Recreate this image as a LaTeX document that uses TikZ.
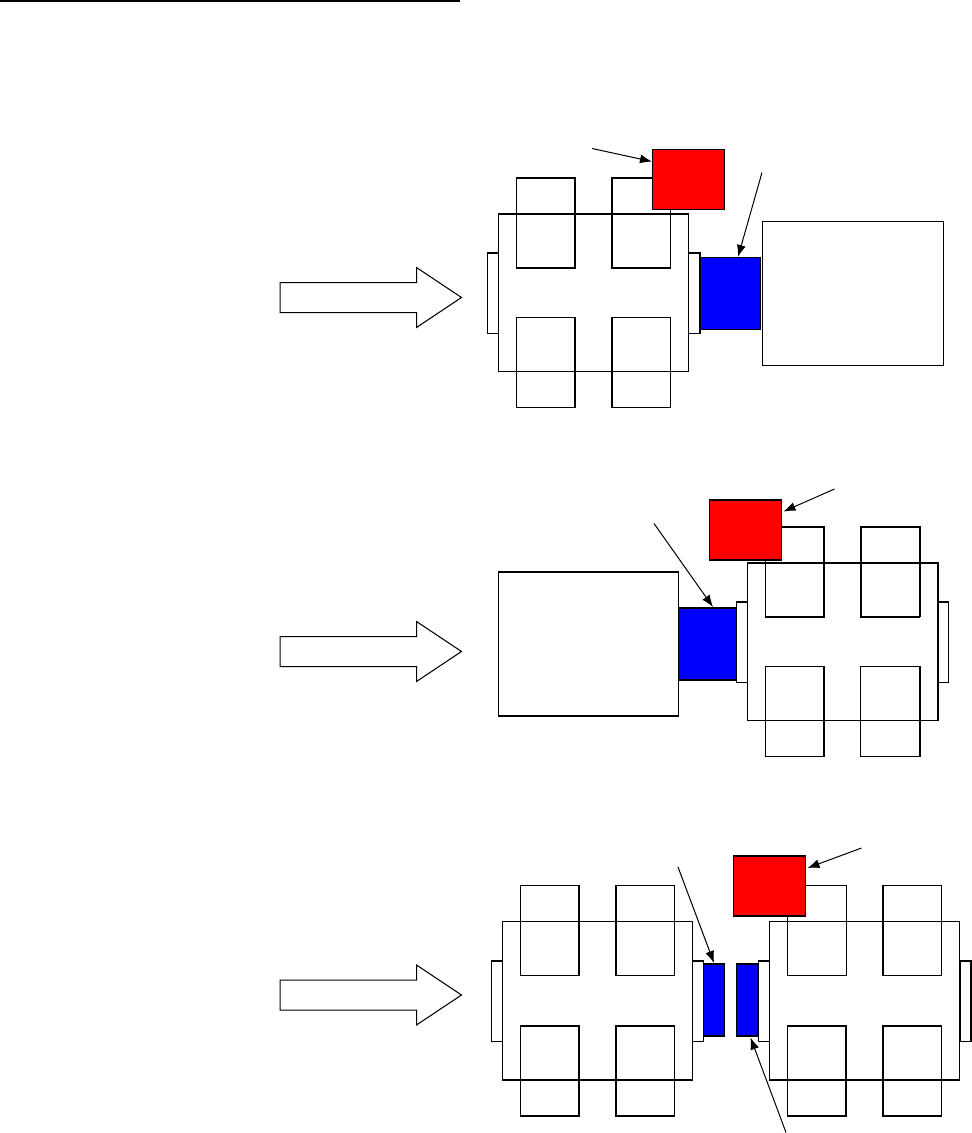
\documentclass[tikz,border=0pt]{standalone}
\usetikzlibrary{arrows.meta}
\tikzset{
  plain/.style={draw=black,line width=1pt,fill=none,inner sep=0pt,outer sep=0pt,anchor=north west},
  redbox/.style={plain,fill=red},
  bluebox/.style={plain,fill=blue},
  thk/.style={line width=2pt,shorten <=-0.6pt,shorten >=-0.6pt},
  pointer/.style={line width=1pt,-{Latex[length=12pt,width=9pt]}},
  blockarrow/.style={draw=black,line width=1pt,fill=white,line join=miter}
}
% \bx name, x0, y0, x1, y1, style
\newcommand{\bx}[6]{\node[#6,minimum width={((#4)-(#2))*1pt},minimum height={((#5)-(#3))*1pt}] (#1) at ({#2},{#3}) {};}
% one car: name, dx, dy
\newcommand{\carshape}[3]{%
  \bx{#1body}{498.5+#2}{213.5+#3}{688.5+#2}{371.5+#3}{plain}%
  \bx{#1tl}{516.5+#2}{177.5+#3}{575+#2}{267.5+#3}{plain}%
  \bx{#1tr}{611.5+#2}{177.5+#3}{670.5+#2}{267.5+#3}{plain}%
  \bx{#1bl}{516.5+#2}{317.5+#3}{575+#2}{407.5+#3}{plain}%
  \bx{#1br}{611.5+#2}{317.5+#3}{670.5+#2}{407.5+#3}{plain}%
  \bx{#1lb}{487.5+#2}{252.5+#3}{498.5+#2}{333.5+#3}{plain}%
  \bx{#1rb}{688.5+#2}{252.5+#3}{699.5+#2}{333.5+#3}{plain}%
}
% thick edges
\newcommand{\Top}[1]{\draw[thk] (#1.north west) -- (#1.north east);}
\newcommand{\Bot}[1]{\draw[thk] (#1.south west) -- (#1.south east);}
\newcommand{\Lft}[1]{\draw[thk] (#1.north west) -- (#1.south west);}
\newcommand{\Rgt}[1]{\draw[thk] (#1.north east) -- (#1.south east);}
\newcommand{\blockarr}[1]{%
  \draw[blockarrow] (280,#1-15) -- (416.5,#1-15) -- (416.5,#1-30) -- (461.5,#1) -- (416.5,#1+30) -- (416.5,#1+15) -- (280,#1+15) -- cycle;}
\begin{document}
\begin{tikzpicture}[x=1pt,y=-1pt]
\useasboundingbox (0,0) rectangle (972,1133);
\fill[white] (0,0) rectangle (972,1133);
% header rule
\coordinate (ruleA) at (0,1.2);
\coordinate (ruleB) at (460,1.2);
\draw[line width=2.4pt] (ruleA) -- (ruleB);
% block arrows
\blockarr{297.5}
\blockarr{651.5}
\blockarr{995}
% scene 1
\carshape{a}{0}{0}
\Top{abody}\Top{atl}\Rgt{atl}\Bot{atl}\Top{atr}\Lft{atr}\Bot{atr}\Rgt{abl}\Lft{abr}\Top{alb}\Top{arb}\Rgt{arb}
\bx{ared}{652.5}{149.5}{724.5}{209.5}{redbox}
\bx{ablue}{700.5}{257.5}{760.5}{329.5}{bluebox}
\bx{abox}{762.5}{221.5}{943}{365.5}{plain}
\coordinate (a1) at (592,148.5);
\coordinate (a2) at (762,172.5);
\coordinate (a1e) at (652,161.5);
\coordinate (a2e) at (738,257);
\draw[pointer] (a1) -- (a1e);
\draw[pointer] (a2) -- (a2e);
% scene 2
\carshape{b}{249}{349}
\Top{bbody}\Rgt{bbody}\Top{btl}\Rgt{btl}\Bot{btl}\Top{btr}\Lft{btr}\Rgt{btr}\Bot{btr}\Rgt{bbl}\Rgt{bbr}\Top{blb}\Top{brb}
\bx{bbox}{498.5}{572}{678.5}{716}{plain}
\Top{bbox}\Bot{bbox}
\bx{bred}{709.5}{500}{781.5}{560}{redbox}
\Top{bred}\Bot{bred}
\bx{bblue}{678.5}{608}{736.5}{680}{bluebox}
\Top{bblue}\Bot{bblue}
\coordinate (b1) at (834.5,489);
\coordinate (b1e) at (783.5,511.5);
\coordinate (b2) at (654,523.5);
\coordinate (b2e) at (713,607);
\draw[pointer] (b1) -- (b1e);
\draw[pointer] (b2) -- (b2e);
% scene 3
\carshape{c}{4}{708}
\Bot{cbody}\Rgt{ctl}\Lft{ctr}\Top{cbl}\Rgt{cbl}\Bot{cbl}\Top{cbr}\Lft{cbr}\Bot{cbr}\Top{clb}\Top{crb}
\carshape{d}{271}{708}
\Bot{dbody}\Lft{dtr}\Top{dbl}\Bot{dbl}\Rgt{dbl}\Top{dbr}\Lft{dbr}\Bot{dbr}\Top{dlb}\Top{drb}\Lft{drb}\Rgt{drb}
\bx{cblue}{703.5}{964}{724.5}{1036}{bluebox}
\bx{dblue}{736.5}{964}{757.5}{1036}{bluebox}
\Top{cblue}\Bot{cblue}\Top{dblue}\Bot{dblue}
\bx{dred}{733.5}{856}{805.5}{916}{redbox}
\Top{dred}\Bot{dred}
\coordinate (c1) at (678,867);
\coordinate (c1e) at (714,963);
\coordinate (d1) at (861.5,848);
\coordinate (d1e) at (807.5,868);
\coordinate (d2) at (786,1132.5);
\coordinate (d2e) at (750.5,1037.5);
\draw[pointer] (c1) -- (c1e);
\draw[pointer] (d1) -- (d1e);
\draw[pointer] (d2) -- (d2e);
\end{tikzpicture}
\end{document}
